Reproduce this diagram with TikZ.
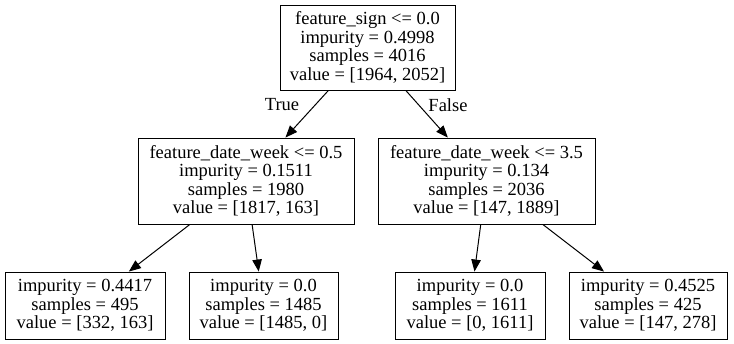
\documentclass[tikz,border=0pt]{standalone}
\usepackage{fontspec}
\setmainfont{Liberation Serif}
\usetikzlibrary{arrows.meta}
\begin{document}
\begin{tikzpicture}[x=1pt,y=-1pt,
  tbox/.style={draw,line width=0.9pt,align=center,inner sep=0pt,
    font=\fontsize{18.5}{18.5}\selectfont},
  edge/.style={line width=1pt,-{Triangle[length=12pt,width=9.5pt]}},
  elabel/.style={font=\fontsize{18.5}{18.5}\selectfont,inner sep=0pt}]
\useasboundingbox (0,0) rectangle (734,344);
\node[tbox,minimum width=175pt,minimum height=85pt] (root) at (367.5,47.5)
  {feature\_sign <= 0.0\\impurity = 0.4998\\samples = 4016\\value = [1964, 2052]};
\node[tbox,minimum width=216pt,minimum height=86pt] (ml) at (246,181)
  {feature\_date\_week <= 0.5\\impurity = 0.1511\\samples = 1980\\value = [1817, 163]};
\node[tbox,minimum width=217pt,minimum height=86pt] (mr) at (486.5,181)
  {feature\_date\_week <= 3.5\\impurity = 0.134\\samples = 2036\\value = [147, 1889]};
\node[tbox,minimum width=160pt,minimum height=67pt] (l1) at (85,305.5)
  {impurity = 0.4417\\samples = 495\\value = [332, 163]};
\node[tbox,minimum width=149pt,minimum height=67pt] (l2) at (263.5,305.5)
  {impurity = 0.0\\samples = 1485\\value = [1485, 0]};
\node[tbox,minimum width=150pt,minimum height=67pt] (l3) at (470,305.5)
  {impurity = 0.0\\samples = 1611\\value = [0, 1611]};
\node[tbox,minimum width=158pt,minimum height=67pt] (l4) at (648,305.5)
  {impurity = 0.4525\\samples = 425\\value = [147, 278]};
\draw[edge] (root) -- (ml);
\draw[edge] (root) -- (mr);
\draw[edge] (ml) -- (l1);
\draw[edge] (ml) -- (l2);
\draw[edge] (mr) -- (l3);
\draw[edge] (mr) -- (l4);
\node[elabel] (tlab) at (282,105) {True};
\node[elabel] (flab) at (448,105) {False};
\end{tikzpicture}
\end{document}
